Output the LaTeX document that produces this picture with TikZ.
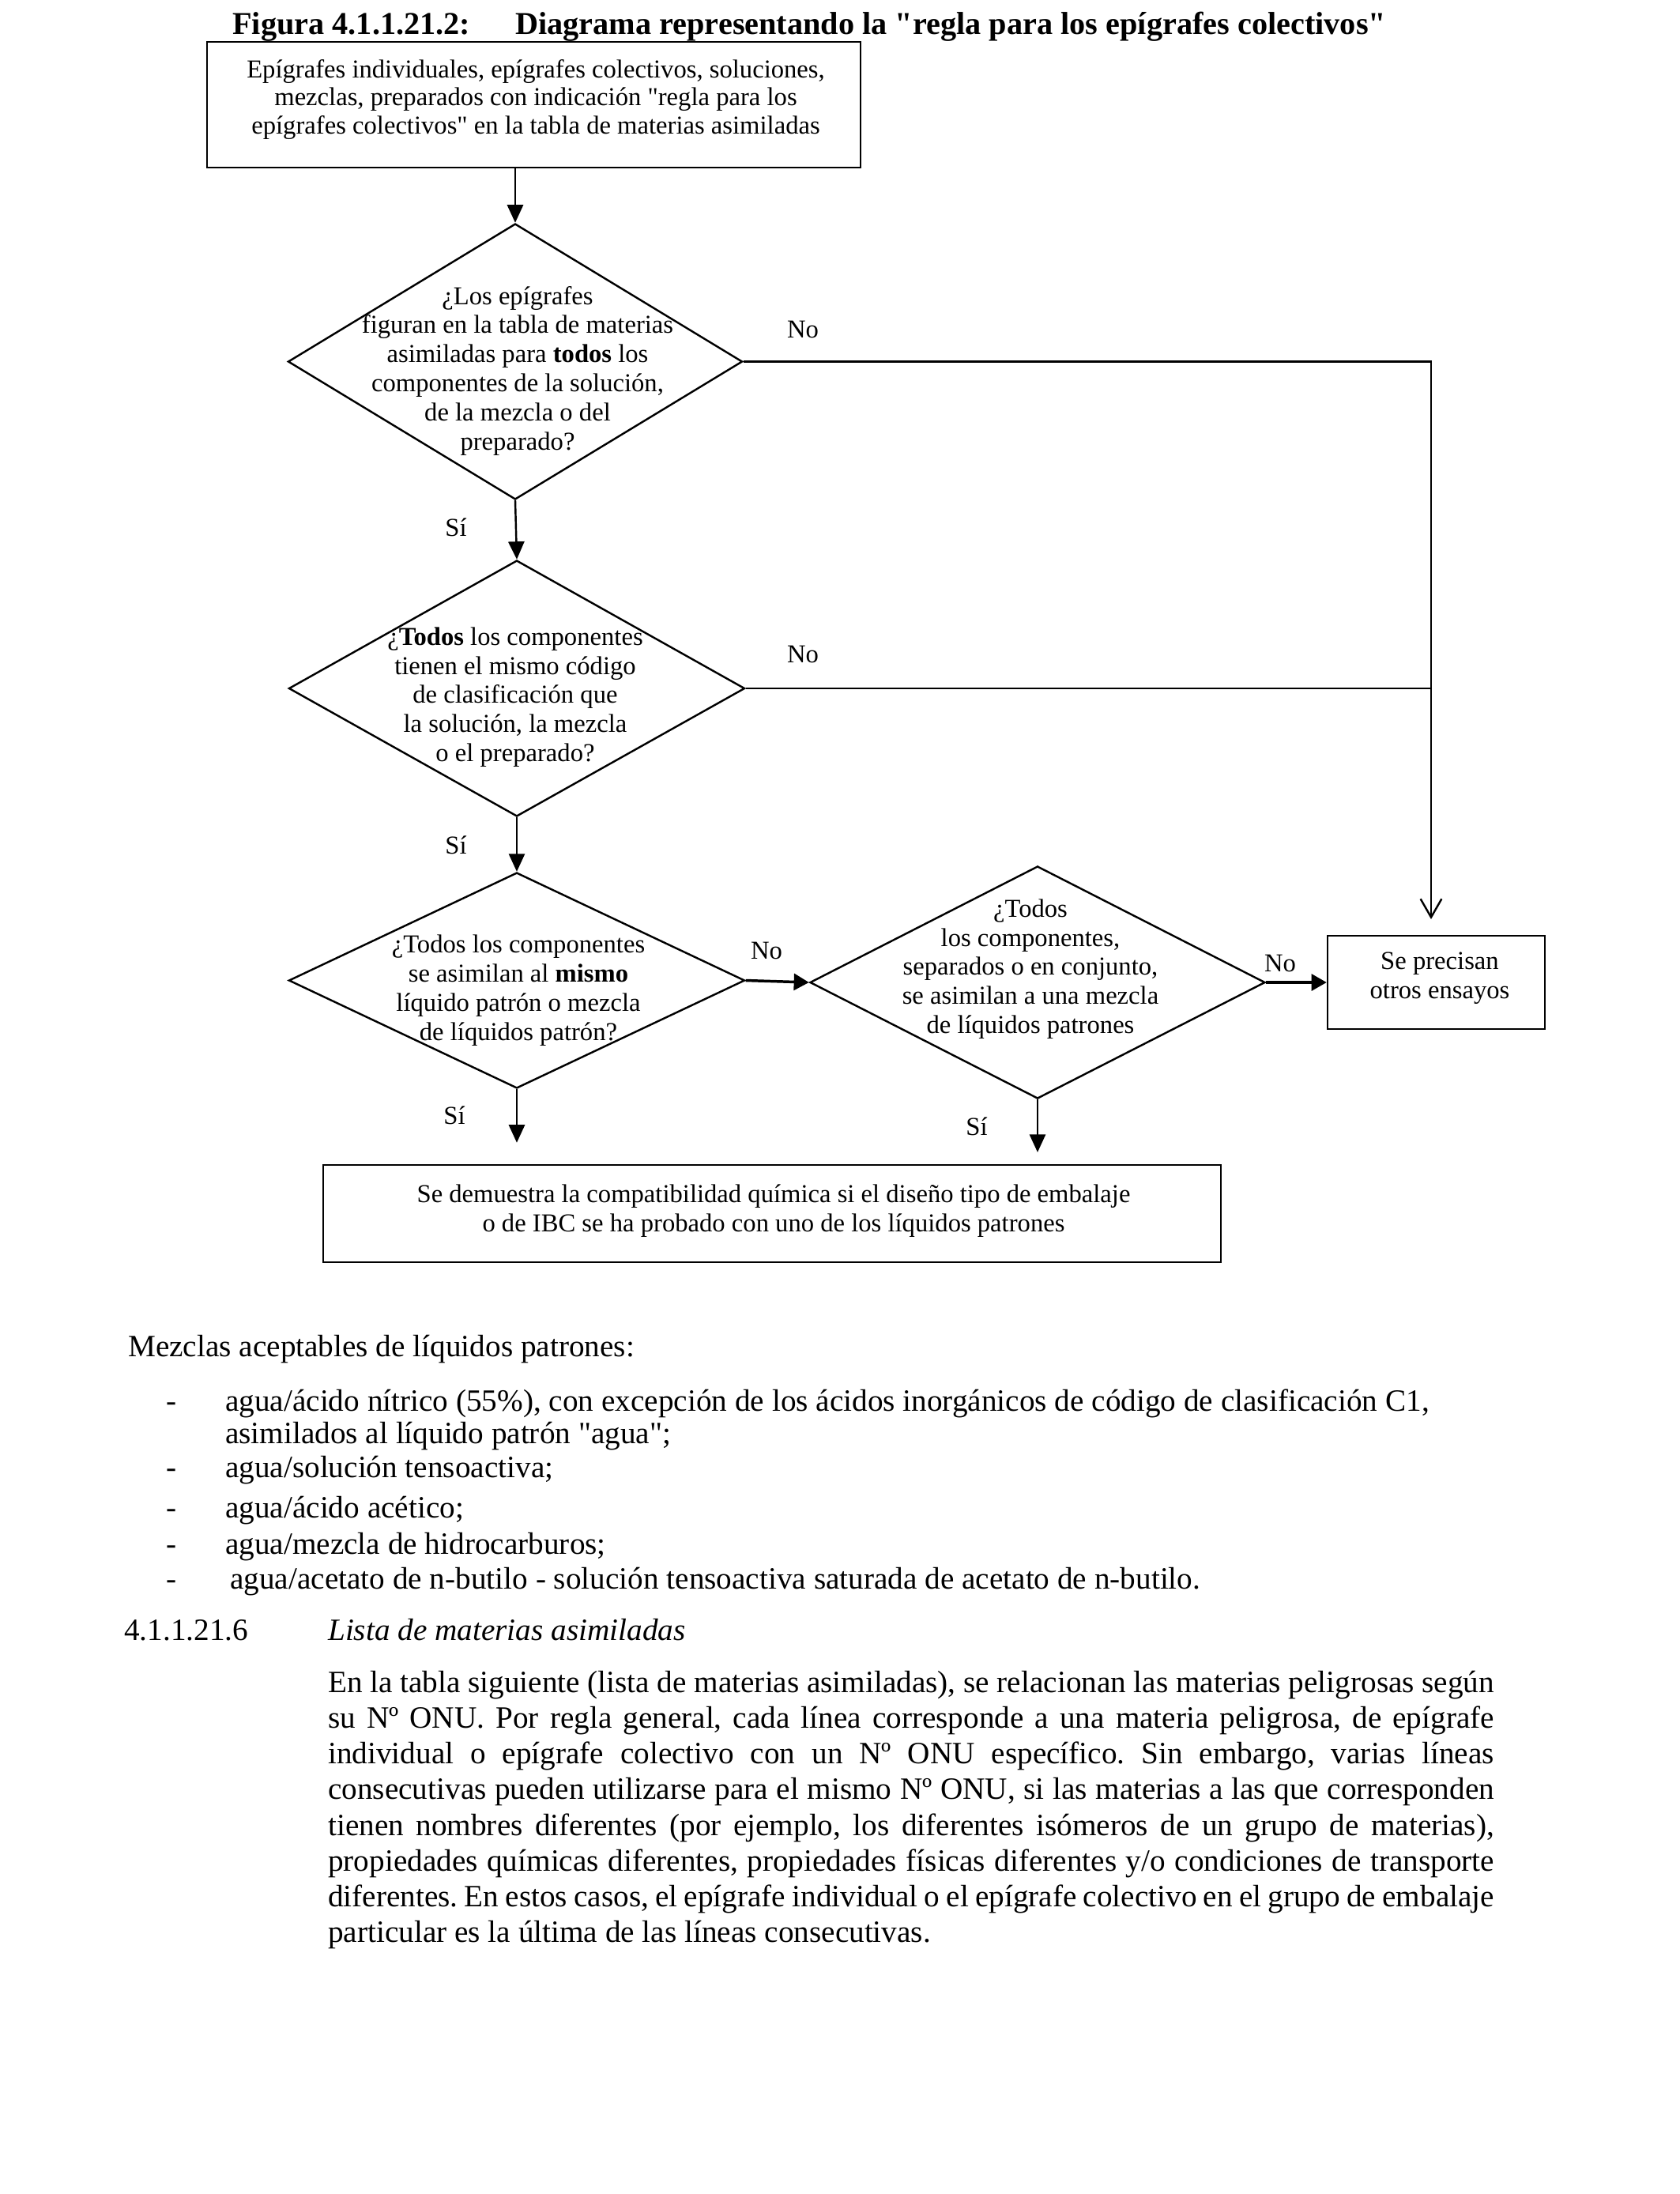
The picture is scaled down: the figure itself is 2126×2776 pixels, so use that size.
\documentclass[tikz,border=0pt]{standalone}
\usepackage{fontspec}
\setmainfont{Liberation Serif}
\usetikzlibrary{arrows.meta,shapes.geometric,positioning}

\newcommand{\renglon}[1]{\makebox[425pt][s]{#1}}
\newcommand{\comilla}{\textquotedbl}
\frenchspacing

\begin{document}
\begin{tikzpicture}[x=0.288pt,y=-0.288pt,line width=0.7pt,
  caja/.style={draw,rectangle,inner sep=0pt},
  rombo/.style={draw,diamond,inner sep=0pt},
  txt/.style={align=center,inner sep=0pt,font=\fontsize{9.4}{10.6}\selectfont},
  resp/.style={anchor=base,inner sep=0pt,font=\fontsize{9.4}{10.6}\selectfont},
  cuerpo/.style={anchor=base west,inner sep=0pt,font=\fontsize{11.3}{13}\selectfont},
  flecha/.style={-{Triangle[length=6.5pt,width=5.8pt]}},
  flechagruesa/.style={line width=1pt,-{Triangle[length=5.5pt,width=6pt]}},
  abierta/.style={-{Straight Barb[length=6.7pt,width=7.7pt]}}]
  \useasboundingbox (0,0) rectangle (2126,2776);

  % titulo
  \node[cuerpo,font=\fontsize{11.6}{13}\selectfont\bfseries] (fig) at (293,43) {Figura 4.1.1.21.2:};
  \node[cuerpo,font=\fontsize{11.6}{13}\selectfont\bfseries] (titulo) at (651,43)
    {Diagrama representando la \comilla regla para los epígrafes colectivos\comilla};

  % cajas y rombos
  \node[caja,minimum width=238.2pt,minimum height=45.8pt] (inicio) at (675.5,132.5) {};
  \node[txt,font=\fontsize{9.4}{10.1}\selectfont] (inicioTxt) at (678,126)
    {Epígrafes individuales, epígrafes colectivos, soluciones,\\
     mezclas, preparados con indicación \comilla regla para los\\
     epígrafes colectivos\comilla{} en la tabla de materias asimiladas};

  \node[rombo,minimum width=165.6pt,minimum height=100.5pt] (r1) at (652,457.5) {};
  \node[txt] (r1Txt) at (655,469)
    {¿Los epígrafes\\ figuran en la tabla de materias\\ asimiladas para \textbf{todos} los\\
     componentes de la solución,\\ de la mezcla o del\\ preparado?};

  \node[rombo,minimum width=166.2pt,minimum height=93.3pt] (r2) at (654,871) {};
  \node[txt] (r2Txt) at (652,882)
    {¿\textbf{Todos} los componentes\\ tienen el mismo código\\ de clasificación que\\
     la solución, la mezcla\\ o el preparado?};

  \node[rombo,minimum width=166.2pt,minimum height=78.6pt] (r3) at (654,1240.5) {};
  \node[txt] (r3Txt) at (656,1253)
    {¿Todos los componentes\\ se asimilan al \textbf{mismo}\\ líquido patrón o mezcla\\
     de líquidos patrón?};

  \node[rombo,minimum width=165.9pt,minimum height=84.7pt] (r4) at (1313,1243) {};
  \node[txt] (r4Txt) at (1304,1226)
    {¿Todos\\ los componentes,\\ separados o en conjunto,\\ se asimilan a una mezcla\\
     de líquidos patrones};

  \node[caja,minimum width=79.2pt,minimum height=34pt] (otros) at (1817.5,1243) {};
  \node[txt] (otrosTxt) at (1822,1238) {Se precisan\\ otros ensayos};

  \node[caja,minimum width=327.2pt,minimum height=35.4pt] (fin) at (977,1535.5) {};
  \node[txt] (finTxt) at (979,1532)
    {Se demuestra la compatibilidad química si el diseño tipo de embalaje\\
     o de IBC se ha probado con uno de los líquidos patrones};

  % conectores
  \coordinate (riel) at (1811,1163);
  \draw[flecha] (inicio.south -| r1.north) -- (r1.north);
  \draw[flecha] (r1.south) -- (r2.north);
  \draw[flecha] (r2.south) -- (r3.north);
  \draw[abierta] (r1.east) -| (riel);
  \draw (r2.east) -- (r2.east -| riel);
  \draw[flechagruesa] (r3.east) -- (r4.west);
  \draw[flechagruesa] (r4.east) -- (otros.west);
  \draw[flecha,shorten >=7.8pt] (r3.south) -- (r3.south |- fin.north);
  \draw[flecha,shorten >=4.3pt] (r4.south) -- (r4.south |- fin.north);

  \node[resp] (no1) at (1016,427) {No};
  \node[resp] (no2) at (1016,838) {No};
  \node[resp] (no3) at (970,1213) {No};
  \node[resp] (no4) at (1620,1229) {No};
  \node[resp] (si1) at (577,678) {Sí};
  \node[resp] (si2) at (577,1080) {Sí};
  \node[resp] (si3) at (575,1422) {Sí};
  \node[resp] (si4) at (1236,1436) {Sí};

  % texto
  \node[cuerpo] (mezclas) at (161,1716) {Mezclas aceptables de líquidos patrones:};
  \foreach \y/\n in {1785/1,1869/2,1920/3,1966/4,2010/5}
    \node[cuerpo] (guion\n) at (209,\y) {-};
  \node[cuerpo] (item1) at (284,1785)
    {agua/ácido nítrico (55\%), con excepción de los ácidos inorgánicos de código de clasificación C1,};
  \node[cuerpo] (item1b) at (284,1826) {asimilados al líquido patrón \comilla agua\comilla;};
  \node[cuerpo] (item2) at (284,1869) {agua/solución tensoactiva;};
  \node[cuerpo] (item3) at (284,1920) {agua/ácido acético;};
  \node[cuerpo] (item4) at (284,1966) {agua/mezcla de hidrocarburos;};
  \node[cuerpo] (item5) at (290,2010)
    {agua/acetato de n-butilo - solución tensoactiva saturada de acetato de n-butilo.};

  \node[cuerpo] (seccion) at (156,2075) {4.1.1.21.6};
  \node[cuerpo,font=\fontsize{11.3}{13}\selectfont\itshape] (lista) at (414,2075) {Lista de materias asimiladas};
  \node[anchor=north west,inner sep=0pt,align=left,font=\fontsize{11.3}{13}\selectfont] (parrafo) at (414,2113)
    {\renglon{En la tabla siguiente (lista de materias asimiladas), se relacionan las materias peligrosas según}\\
     \renglon{su Nº ONU. Por regla general, cada línea corresponde a una materia peligrosa, de epígrafe}\\
     \renglon{individual o epígrafe colectivo con un Nº ONU específico. Sin embargo, varias líneas}\\
     \renglon{consecutivas pueden utilizarse para el mismo Nº ONU, si las materias a las que corresponden}\\
     \renglon{tienen nombres diferentes (por ejemplo, los diferentes isómeros de un grupo de materias),}\\
     \renglon{propiedades químicas diferentes, propiedades físicas diferentes y/o condiciones de transporte}\\
     \renglon{diferentes. En estos casos, el epígrafe individual o el epígrafe colectivo en el grupo de embalaje}\\
     particular es la última de las líneas consecutivas.};
\end{tikzpicture}
\end{document}
